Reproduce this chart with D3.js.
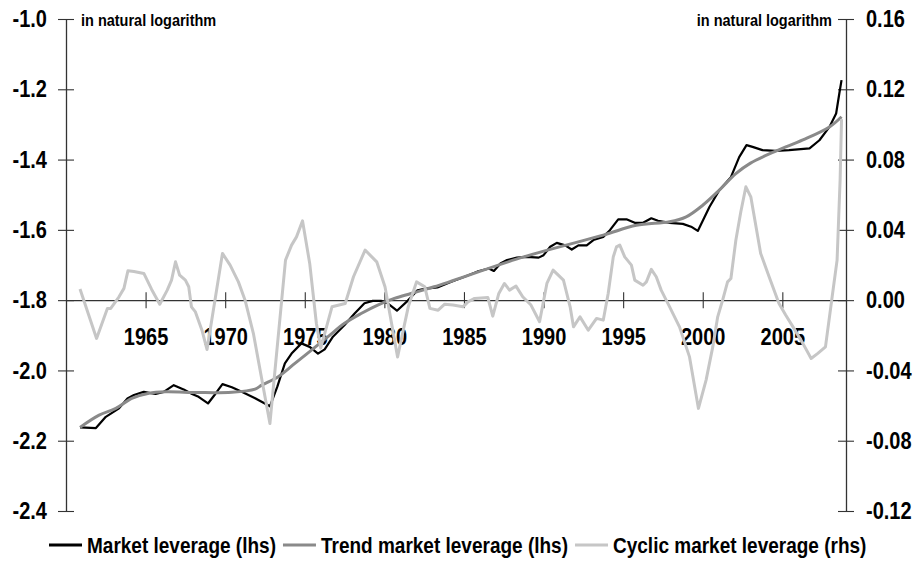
<!DOCTYPE html>
<html>
<head>
<meta charset="utf-8">
<script src="https://cdn.jsdelivr.net/npm/d3@7"></script>
<style>
  html, body { margin: 0; padding: 0; background: #fff; }
  svg { display: block; font-family: "Liberation Sans", Arial, sans-serif; }
</style>
</head>
<body>
<svg id="chart" width="919" height="566"></svg>
<script>
// ---------------- DATA ----------------
const marketYears = [1960.88,1961.88,1962.5,1963.33,1963.86,1964.27,1964.89,1965.63,1966.14,1966.77,1967.39,1967.92,1968.33,1968.92,1969.38,1969.83,1970.42,1971.04,1971.88,1972.81,1973.27,1973.75,1974.17,1974.79,1975.31,1975.83,1976.25,1976.77,1977.5,1978.13,1978.75,1979.27,1979.79,1980.21,1980.79,1981.46,1982.08,1982.61,1983.33,1984.17,1985.0,1985.83,1986.56,1986.88,1987.29,1987.71,1988.33,1988.96,1989.69,1990.0,1990.42,1990.83,1991.36,1991.77,1992.19,1992.71,1993.13,1993.75,1994.17,1994.69,1995.21,1995.73,1996.25,1996.77,1997.19,1997.92,1998.75,1999.27,1999.69,2000.42,2001.04,2001.77,2002.29,2002.75,2003.13,2003.75,2004.58,2005.42,2006.71,2007.33,2007.96,2008.38,2008.58,2008.72];
const marketValues = [-2.162,-2.164,-2.132,-2.108,-2.080,-2.070,-2.061,-2.067,-2.061,-2.042,-2.054,-2.067,-2.075,-2.094,-2.067,-2.039,-2.048,-2.061,-2.079,-2.102,-2.047,-1.980,-1.952,-1.923,-1.933,-1.952,-1.940,-1.904,-1.871,-1.838,-1.809,-1.802,-1.802,-1.809,-1.830,-1.802,-1.772,-1.767,-1.764,-1.748,-1.734,-1.719,-1.710,-1.717,-1.696,-1.686,-1.679,-1.677,-1.679,-1.672,-1.648,-1.637,-1.644,-1.656,-1.644,-1.644,-1.629,-1.620,-1.601,-1.570,-1.570,-1.580,-1.580,-1.567,-1.574,-1.580,-1.583,-1.591,-1.603,-1.535,-1.487,-1.450,-1.393,-1.359,-1.364,-1.373,-1.375,-1.373,-1.368,-1.345,-1.307,-1.269,-1.212,-1.174];

const trendYears = [1960.88,1962.08,1963.13,1964.17,1965.21,1966.25,1968.33,1970.42,1971.88,1972.29,1973.33,1974.38,1975.42,1976.46,1977.5,1978.54,1979.58,1980.63,1981.67,1983.13,1988.75,1993.75,1995.83,1997.92,1998.96,2000.0,2001.04,2002.08,2003.0,2004.63,2006.29,2007.96,2008.72];
const trendValues = [-2.162,-2.127,-2.108,-2.079,-2.065,-2.061,-2.063,-2.062,-2.053,-2.042,-2.018,-1.980,-1.942,-1.904,-1.866,-1.838,-1.814,-1.795,-1.781,-1.762,-1.677,-1.615,-1.587,-1.577,-1.563,-1.530,-1.487,-1.440,-1.410,-1.375,-1.344,-1.307,-1.278];

const cyclicYears = [1960.88,1961.92,1962.6,1962.81,1963.33,1963.64,1963.89,1964.27,1964.89,1965.38,1965.89,1966.36,1966.63,1966.88,1967.14,1967.5,1967.71,1967.88,1968.13,1968.54,1968.86,1969.83,1970.31,1970.83,1971.25,1971.77,1972.81,1973.79,1974.17,1974.48,1974.86,1975.31,1975.73,1976.0,1976.71,1977.54,1978.06,1978.79,1979.52,1980.04,1980.83,1981.5,1982.02,1982.54,1982.86,1983.38,1983.79,1984.31,1984.94,1985.25,1985.67,1986.5,1986.81,1987.19,1987.54,1987.86,1988.27,1988.69,1989.21,1989.75,1990.21,1990.6,1991.25,1991.67,1991.88,1992.29,1992.81,1993.33,1993.75,1994.06,1994.38,1994.58,1994.79,1995.1,1995.52,1995.73,1996.25,1996.46,1996.77,1997.08,1997.39,1997.92,1998.54,1999.17,1999.73,2000.21,2000.63,2000.94,2001.25,2001.56,2001.77,2002.08,2002.39,2002.71,2003.02,2003.64,2004.17,2004.79,2005.21,2005.67,2006.29,2006.81,2007.23,2007.71,2008.13,2008.44,2008.63,2008.72];
const cyclicValues = [0.0063,-0.0218,-0.0047,-0.0047,0.0019,0.0067,0.0167,0.0163,0.0152,0.0061,-0.0023,0.0057,0.0114,0.0218,0.0142,0.0114,0.0076,-0.0038,-0.0067,-0.0171,-0.0281,0.0266,0.0199,0.0104,0.0,-0.0189,-0.0702,0.0228,0.0313,0.0360,0.0451,0.0209,-0.0133,-0.0273,-0.0038,-0.0019,0.0133,0.0285,0.0218,0.0076,-0.0323,-0.0038,0.0104,0.0076,-0.0047,-0.0057,-0.0023,-0.0028,-0.0038,-0.0010,0.0010,0.0015,-0.0091,0.0038,0.0095,0.0057,0.0080,0.0019,-0.0028,-0.0123,0.0095,0.0171,0.0114,-0.0038,-0.0152,-0.0095,-0.0171,-0.0104,-0.0114,0.0038,0.0246,0.0303,0.0313,0.0246,0.0199,0.0114,0.0085,0.0104,0.0175,0.0133,0.0057,-0.0038,-0.0152,-0.0323,-0.0616,-0.0455,-0.0266,-0.0095,0.0,0.0104,0.0123,0.0341,0.0502,0.0645,0.0588,0.0266,0.0133,-0.0019,-0.0085,-0.0152,-0.0246,-0.0332,-0.0303,-0.0266,0.0019,0.0228,0.0683,0.1030];

const yearTicks = [1965, 1970, 1975, 1980, 1985, 1990, 1995, 2000, 2005];
const leftTicks = [-2.4, -2.2, -2.0, -1.8, -1.6, -1.4, -1.2, -1.0];
const rightTicks = [-0.12, -0.08, -0.04, 0.00, 0.04, 0.08, 0.12, 0.16];
const unitLabel = "in natural logarithm";
const seriesNames = ["Market leverage (lhs)", "Trend market leverage (lhs)", "Cyclic market leverage (rhs)"];
const seriesColors = ["#000000", "#8a8a8a", "#c6c6c6"];

// ---------------- CHART ----------------
const svg = d3.select("#chart");
const STRETCH = 1.15;

const x = d3.scaleLinear().domain([1960, 2009]).range([66, 846]);
const yL = d3.scaleLinear().domain([-2.4, -1.0]).range([511, 19]);
const yR = d3.scaleLinear().domain([-0.12, 0.16]).range([511, 19]);

// left axis
const gL = svg.append("g").attr("transform", `translate(${x(1960)},0)`)
  .call(d3.axisLeft(yL).tickValues(leftTicks).tickFormat(d => d.toFixed(1))
        .tickSizeInner(8).tickSizeOuter(0).tickPadding(11));
// right axis
const gR = svg.append("g").attr("transform", `translate(${x(2009)},0)`)
  .call(d3.axisRight(yR).tickValues(rightTicks).tickFormat(d => d.toFixed(2))
        .tickSizeInner(8).tickSizeOuter(0).tickPadding(12));
// x axis on the zero line
const gX = svg.append("g").attr("transform", `translate(0,${yR(0)})`)
  .call(d3.axisBottom(x).tickValues(yearTicks).tickFormat(d3.format("d"))
        .tickSizeInner(8).tickSizeOuter(0).tickPadding(0));

[gL, gR, gX].forEach(g => {
  g.select(".domain").attr("stroke", "#333").attr("stroke-width", 1.3);
  g.selectAll(".tick line").attr("stroke", "#333").attr("stroke-width", 1.1);
  g.selectAll(".tick text").attr("fill", "#000")
    .style("font-family", '"Liberation Sans", Arial, sans-serif')
    .style("font-size", "20px").style("font-weight", "bold");
});
gL.selectAll(".tick line").attr("x1", 8).attr("x2", -8);
gR.selectAll(".tick line").attr("x1", -8).attr("x2", 8);
gX.selectAll(".tick line").attr("y1", -8).attr("y2", 8);
gL.selectAll(".tick text").attr("transform", `scale(1,${STRETCH})`).attr("dy", "0.33em");
gR.selectAll(".tick text").attr("transform", `scale(1,${STRETCH})`).attr("dy", "0.33em");
gX.selectAll(".tick text").attr("y", 37 / STRETCH).attr("dy", "0.36em")
  .attr("transform", `scale(1,${STRETCH})`);

// unit labels
svg.append("text").attr("x", 81).attr("y", 20)
  .attr("transform", `translate(0,${20 - 20 * STRETCH}) scale(1,${STRETCH})`)
  .attr("dy", "0.35em").style("font-size", "14.5px").style("font-weight", "bold")
  .text(unitLabel);
svg.append("text").attr("x", 832).attr("y", 20).attr("text-anchor", "end")
  .attr("transform", `translate(0,${20 - 20 * STRETCH}) scale(1,${STRETCH})`)
  .attr("dy", "0.35em").style("font-size", "14.5px").style("font-weight", "bold")
  .text(unitLabel);

// lines
const lineL = d3.line().x(d => x(d[0])).y(d => yL(d[1]));
const lineTrend = d3.line().x(d => x(d[0])).y(d => yL(d[1])).curve(d3.curveCatmullRom.alpha(0.5));
const lineR = d3.line().x(d => x(d[0])).y(d => yR(d[1]));

const market = marketYears.map((t, i) => [t, marketValues[i]]);
const trend = trendYears.map((t, i) => [t, trendValues[i]]);
const cyclic = cyclicYears.map((t, i) => [t, cyclicValues[i]]);

svg.append("path").datum(market).attr("d", lineL).attr("fill", "none")
  .attr("stroke", seriesColors[0]).attr("stroke-width", 2.2).attr("stroke-linejoin", "round");
svg.append("path").datum(trend).attr("d", lineTrend).attr("fill", "none")
  .attr("stroke", seriesColors[1]).attr("stroke-width", 3).attr("stroke-linejoin", "round");
svg.append("path").datum(cyclic).attr("d", lineR).attr("fill", "none")
  .attr("stroke", seriesColors[2]).attr("stroke-width", 3).attr("stroke-linejoin", "round");

// legend
const legY = 545;
let cx = 49;
seriesNames.forEach((name, i) => {
  svg.append("line").attr("x1", cx).attr("x2", cx + 33).attr("y1", legY).attr("y2", legY)
    .attr("stroke", seriesColors[i]).attr("stroke-width", 3);
  const t = svg.append("text").attr("x", cx + 38).attr("y", legY / STRETCH)
    .attr("dy", "0.36em").attr("transform", `scale(1,${STRETCH})`)
    .style("font-size", "19px").style("font-weight", "bold").text(name);
  cx = cx + 38 + t.node().getComputedTextLength() + 7;
});
</script>
</body>
</html>
